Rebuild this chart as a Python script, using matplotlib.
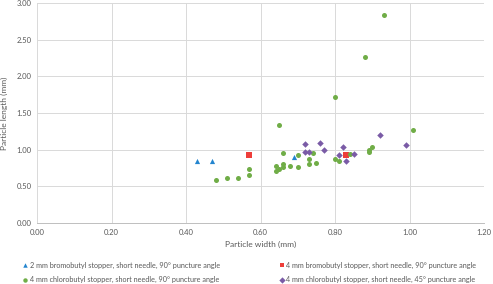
import matplotlib
matplotlib.use("Agg")
import matplotlib.pyplot as plt
from matplotlib.lines import Line2D

plt.rcParams['font.family'] = ['Lato', 'DejaVu Sans']

# 2 mm bromobutyl, short needle, 90 deg
brom2_w = [0.43, 0.47, 0.69]
brom2_l = [0.85, 0.85, 0.90]

# 4 mm bromobutyl, short needle, 90 deg
brom4_w = [0.57, 0.83]
brom4_l = [0.925, 0.925]

# 4 mm chlorobutyl, short needle, 90 deg
chlo90_w = [0.48, 0.51, 0.54, 0.57, 0.57, 0.64, 0.64, 0.65, 0.65, 0.66, 0.66, 0.66,
            0.68, 0.70, 0.70, 0.73, 0.73, 0.74, 0.75, 0.80, 0.80, 0.81, 0.84,
            0.88, 0.89, 0.89, 0.90, 0.93, 1.01]
chlo90_l = [0.59, 0.62, 0.62, 0.65, 0.73, 0.71, 0.78, 0.74, 1.335, 0.76, 0.81, 0.95,
            0.775, 0.77, 0.925, 0.81, 0.875, 0.95, 0.825, 0.875, 1.72, 0.845, 0.94,
            2.27, 0.97, 0.995, 1.04, 2.83, 1.27]

# 4 mm chlorobutyl, short needle, 45 deg
chlo45_w = [0.72, 0.72, 0.73, 0.76, 0.77, 0.81, 0.82, 0.83, 0.85, 0.92, 0.99]
chlo45_l = [1.075, 0.965, 0.965, 1.085, 0.995, 0.925, 1.035, 0.845, 0.94, 1.20, 1.06]

labels = ["2 mm bromobutyl stopper, short needle, 90\u00b0 puncture angle",
          "4 mm bromobutyl stopper, short needle, 90\u00b0 puncture angle",
          "4 mm chlorobutyl stopper, short needle, 90\u00b0 puncture angle",
          "4 mm chlorobutyl stopper, short needle, 45\u00b0 puncture angle"]
colors = ["#2385CF", "#EE3E3A", "#70AD47", "#7A5BA6"]
markers = ["^", "s", "o", "D"]
sizes = [14, 13, 13, 11]

fig = plt.figure(figsize=(4.93, 2.84), dpi=100)
ax = fig.add_axes([0.0751, 0.2148, 0.907, 0.7746])

series = [(brom2_w, brom2_l), (brom4_w, brom4_l), (chlo90_w, chlo90_l), (chlo45_w, chlo45_l)]
for (xs, ys), c, m, s in zip(series, colors, markers, sizes):
    ax.scatter(xs, ys, s=s, c=c, marker=m, linewidths=0, zorder=3)

ax.set_xlim(0, 1.2)
ax.set_ylim(0, 3.0)
ax.set_xticks([0, 0.2, 0.4, 0.6, 0.8, 1.0, 1.2])
ax.set_yticks([0, 0.5, 1.0, 1.5, 2.0, 2.5, 3.0])
ax.set_xticklabels(["%.2f" % v for v in ax.get_xticks()])
ax.set_yticklabels(["%.2f" % v for v in ax.get_yticks()])
ax.tick_params(labelsize=5.5, colors="#595959", length=0, pad=4)
ax.grid(True, color="#D9D9D9", linewidth=0.7)
ax.set_axisbelow(True)
for sp in ["top", "right", "left"]:
    ax.spines[sp].set_visible(False)
ax.spines["bottom"].set_color("#BFBFBF")
ax.spines["bottom"].set_linewidth(0.7)

ax.set_xlabel("Particle width (mm)", fontsize=6, color="#595959", labelpad=4)
ax.set_ylabel("Particle length (mm)", fontsize=6, color="#595959", labelpad=6)

handles = [Line2D([], [], linestyle="none", marker=m, color=c, markersize=3.2, markeredgewidth=0)
           for m, c in zip(markers, colors)]
# left column (items 0, 2) and right column (items 1, 3)
for idx, x0 in [((0, 2), 0.047), ((1, 3), 0.567)]:
    leg = fig.legend([handles[i] for i in idx], [labels[i] for i in idx],
                     loc="center left", bbox_to_anchor=(x0, 0.04),
                     frameon=False, fontsize=5.2, labelcolor="#595959", handlelength=0.6,
                     handletextpad=0.35, labelspacing=1.05, borderpad=0, borderaxespad=0)

fig.savefig("out.png", dpi=100)
